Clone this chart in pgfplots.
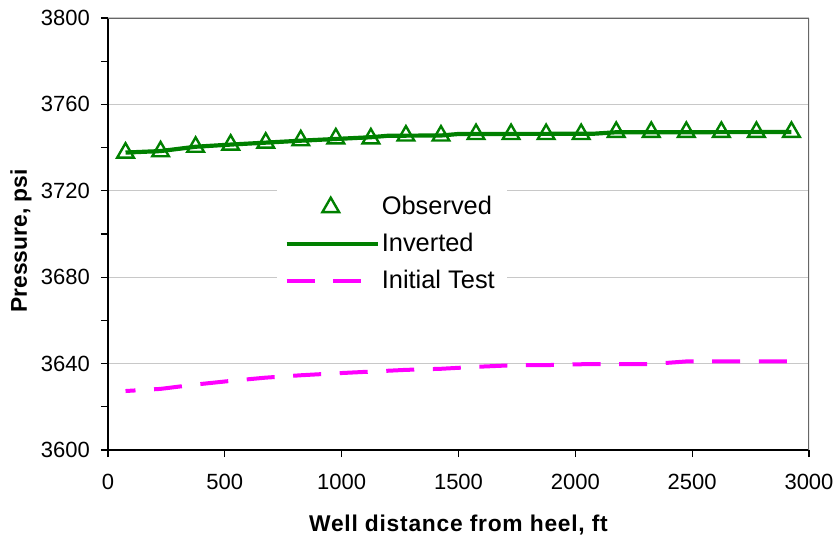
\documentclass[border=0pt]{standalone}
\usepackage{fontspec}
\setmainfont{Liberation Sans}
\newfontfamily\spaced[LetterSpace=3.3]{Liberation Sans}
\usepackage{pgfplots}
\pgfplotsset{compat=1.18}
\definecolor{exgreen}{RGB}{0,128,0}
\definecolor{exmag}{RGB}{255,0,255}
\definecolor{gridgray}{RGB}{200,200,200}
\pgfplotsset{
  legobs/.style={legend image code/.code={\draw[##1] plot coordinates {(22pt,0pt)};}},
  leginv/.style={legend image code/.code={\draw[##1] (0pt,0pt) -- (45.5pt,0pt);}},
  legini/.style={legend image code/.code={\draw[##1, dash phase=0pt] (0pt,0pt) -- (40pt,0pt);}},
}
\begin{document}
\begin{tikzpicture}
\begin{axis}[
  at={(54pt,46pt)}, anchor=south west,
  scale only axis, width=350.5pt, height=216pt,
  xmin=0, xmax=3000, ymin=3600, ymax=3800,
  xtick={0,500,...,3000}, ytick={3600,3640,...,3800},
  minor y tick num=1,
  axis lines*=left,
  axis line style={black, line width=0.8pt},
  tick align=outside,
  major tick length=3.5pt, minor tick length=3.5pt,
  tick style={black, line width=0.6pt},
  xtick pos=bottom, ytick pos=left,
  ymajorgrids, major grid style={gridgray, line width=0.6pt},
  /pgf/number format/assume math mode=true,
  /pgf/number format/set thousands separator={},
  tick label style={font=\fontsize{11}{13}\selectfont},
  xticklabel style={yshift=-5pt},
  yticklabel style={xshift=-2pt},
  xlabel={\fontsize{11.4}{14}\selectfont\spaced\bfseries Well distance from heel, ft},
  ylabel={\fontsize{11.4}{14}\selectfont\bfseries Pressure, psi},
  every axis x label/.style={at={(axis description cs:0.5,-0.1736)}, anchor=center},
  every axis y label/.style={at={(axis description cs:-0.124,0.484)}, rotate=90, anchor=center},
  legend style={at={(axis description cs:0.240,0.620)}, anchor=north west,
    draw=none, fill=white, inner xsep=4pt, inner ysep=5pt,
    font=\fontsize{12.7}{15.5}\selectfont, row sep=3.8pt,
    /tikz/every odd column/.append style={column sep=-1pt}},
  legend cell align=left,
]
\addplot[only marks, mark=triangle, mark size=4.8pt, exgreen, mark options={line width=1.2pt, fill=white}, legobs]
coordinates {
(75,3737.6) (225,3738.2) (375,3740.3) (525,3741.3) (675,3742.2)
(825,3743.3) (975,3744.2) (1125,3744.2) (1275,3745.5) (1425,3745.5)
(1575,3746.2) (1725,3746.2) (1875,3746.2) (2025,3746.2) (2175,3747.2)
(2325,3747.2) (2475,3747.2) (2625,3747.2) (2775,3747.2) (2925,3747.2)};
\addlegendentry{Observed}
\addplot[exgreen, line width=2.1pt, no marks, leginv]
coordinates {
(75,3737.7) (225,3738.4) (375,3740.4) (525,3741.4) (675,3742.3) (825,3743.2)
(975,3744.0) (1125,3744.8) (1200,3745.5) (1425,3745.6) (1500,3746.3)
(2075,3746.4) (2175,3747.1) (2925,3747.2)};
\addlegendentry{Inverted}
\addplot[exmag, line width=2pt, no marks, dash pattern=on 14pt off 9.3pt, dash phase=9pt, legini]
coordinates {
(75,3627.3) (225,3628.3) (375,3630.3) (525,3632.0) (675,3633.5)
(825,3634.6) (975,3635.5) (1125,3636.3) (1275,3637.1) (1425,3637.6)
(1575,3638.5) (1725,3639.2) (1875,3639.3) (2025,3639.7) (2175,3639.8)
(2325,3639.8) (2475,3641.0) (2625,3641.0) (2775,3641.0) (2925,3641.0)};
\addlegendentry{Initial Test}
\draw[gray!80!black, line width=0.8pt] (rel axis cs:0,1) -- (rel axis cs:1,1) -- (rel axis cs:1,0);
\end{axis}
\pgfresetboundingbox
\path[use as bounding box] (0,0) rectangle (420pt,271pt);
\end{tikzpicture}
\end{document}
